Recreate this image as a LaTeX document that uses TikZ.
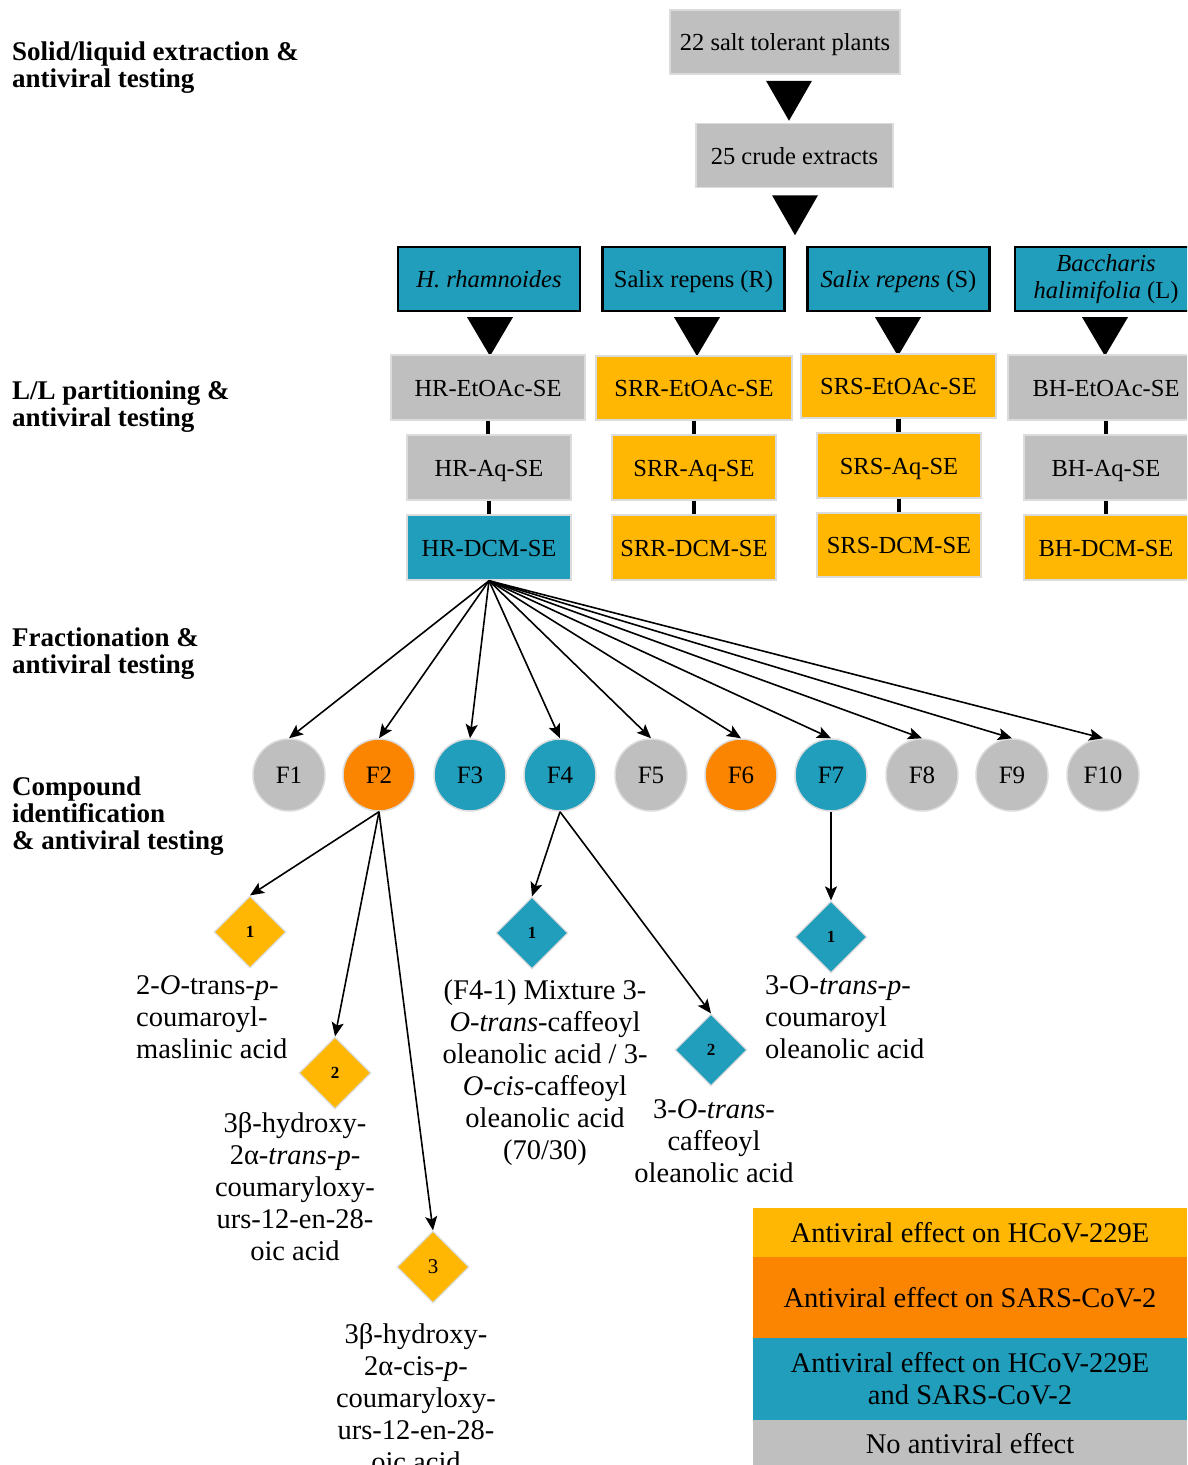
\documentclass[tikz,border=0pt]{standalone}
\usepackage{fontspec}
\setmainfont{Liberation Serif}
\usepackage{graphicx}
\usetikzlibrary{shapes.geometric,arrows.meta,calc}
\definecolor{cgray}{HTML}{BFBFBF}
\definecolor{cyel}{HTML}{FFB703}
\definecolor{corg}{HTML}{FB8500}
\definecolor{cblue}{HTML}{219EBC}
\definecolor{cedge}{HTML}{DCDCDC}
\tikzset{
  box/.style={rectangle, draw=cedge, line width=1.5pt, inner sep=0pt, minimum height=64pt,
    font=\fontsize{24.5}{28}\selectfont, text height=20pt, text depth=3pt},
  plantbox/.style={rectangle, draw=black, line width=2.2pt, fill=cblue, inner sep=0pt,
    minimum width=182pt, minimum height=64pt, font=\fontsize{24.5}{26.5}\selectfont, align=center},
  fcirc/.style={circle, draw=cedge, line width=1.5pt, inner sep=0pt, minimum size=72pt,
    font=\fontsize{25}{25}\selectfont},
  cmpd/.style={diamond, aspect=1, draw=cedge, line width=1.2pt, inner sep=0pt,
    minimum width=72pt, minimum height=72pt, font=\fontsize{17}{17}\selectfont\bfseries},
  ctext/.style={inner sep=0pt, font=\fontsize{28.5}{32}\selectfont},
  lbl/.style={inner sep=0pt, anchor=base west, align=left, font=\fontsize{27}{27}\selectfont\bfseries},
  legbox/.style={rectangle, inner sep=0pt, minimum width=434pt, align=center,
    font=\fontsize{28.5}{32}\selectfont},
  arr/.style={line width=1.6pt, -{Stealth[length=14pt,width=12pt,inset=3pt]}},
  link/.style={line width=4.5pt},
  tri/.style={fill=black}
}
\begin{document}
\begin{tikzpicture}[x=1pt,y=-1pt]
\useasboundingbox (0,0) rectangle (1187,1465);
\clip (0,0) rectangle (1187,1465);

% left step labels (base = baseline of the last line)
\node[lbl] (s1) at (12,87) {Solid/liquid extraction \&\\antiviral testing};
\node[lbl] (s2) at (12,426) {L/L partitioning \&\\antiviral testing};
\node[lbl] (s3) at (12,673) {Fractionation \&\\antiviral testing};
\node[lbl] (s4) at (12,849) {Compound\\identification\\\& antiviral testing};

% top boxes
\node[box, fill=cgray, minimum width=230pt] (plants) at (785,42) {22 salt tolerant plants};
\node[box, fill=cgray, minimum width=197pt] (crude) at (794.5,155.5) {25 crude extracts};

% plant boxes
\node[plantbox, text height=20pt, text depth=3pt] (hr) at (489,279) {\textit{H. rhamnoides}};
\node[plantbox, text height=20pt, text depth=3pt] (srr) at (693.5,279) {Salix repens (R)};
\node[plantbox, text height=20pt, text depth=3pt] (srs) at (898.5,279) {\textit{Salix repens} (S)};
\node[plantbox] (bh) at (1106,279) {\textit{Baccharis}\\\textit{halimifolia} (L)};

% triangles
\fill[tri] ($(plants.south)+(-19,6)$) -- ($(plants.south)+(27,6)$) -- ($(plants.south)+(4,46)$) -- cycle;
\fill[tri] ($(crude.south)+(-22.5,7)$) -- ($(crude.south)+(23.5,7)$) -- ($(crude.south)+(0.5,47)$) -- cycle;
\foreach \n/\dx in {hr/1, srr/3.5, srs/-0.5, bh/-1}{
  \fill[tri] ($(\n.south)+(\dx-23,5)$) -- ($(\n.south)+(\dx+23,5)$) -- ($(\n.south)+(\dx,44)$) -- cycle;
}

% partition boxes
\node[box, fill=cgray, minimum width=194pt, minimum height=65pt] (hre) at (488,387.5) {HR-EtOAc-SE};
\node[box, fill=cgray, minimum width=164pt, minimum height=65pt] (hra) at (489,467.5) {HR-Aq-SE};
\node[box, fill=cblue, minimum width=164pt, minimum height=65pt] (hrd) at (489,547.5) {HR-DCM-SE};

\node[box, fill=cyel, minimum width=196pt] (srre) at (694,388) {SRR-EtOAc-SE};
\node[box, fill=cyel, minimum width=164pt, minimum height=65pt] (srra) at (694,467.5) {SRR-Aq-SE};
\node[box, fill=cyel, minimum width=164pt, minimum height=65pt] (srrd) at (694,547.5) {SRR-DCM-SE};

\node[box, fill=cyel, minimum width=195pt] (srse) at (898.5,386) {SRS-EtOAc-SE};
\node[box, fill=cyel, minimum width=164pt, minimum height=65pt] (srsa) at (899,465.5) {SRS-Aq-SE};
\node[box, fill=cyel, minimum width=164pt] (srsd) at (899,545) {SRS-DCM-SE};

\node[box, fill=cgray, minimum width=196pt, minimum height=65pt] (bhe) at (1106,387.5) {BH-EtOAc-SE};
\node[box, fill=cgray, minimum width=164pt, minimum height=65pt] (bha) at (1106,467.5) {BH-Aq-SE};
\node[box, fill=cyel, minimum width=164pt, minimum height=65pt] (bhd) at (1106,547.5) {BH-DCM-SE};

\foreach \a/\b in {hre/hra, hra/hrd, srre/srra, srra/srrd, srse/srsa, srsa/srsd, bhe/bha, bha/bhd}{
  \draw[link] (\a.south) -- (\a.south |- \b.north);
}

% fractions
\foreach \i/\x/\c in {1/289/cgray, 2/379/corg, 3/470/cblue, 4/560/cblue, 5/651/cgray,
                      6/741/corg, 7/831/cblue, 8/922/cgray, 9/1012/cgray, 10/1103/cgray}{
  \node[fcirc, fill=\c] (f\i) at (\x,775) {F\i};
}
\foreach \i in {1,...,10}{
  \draw[arr] (hrd.south) -- (f\i.north);
}

% compounds
\node[cmpd, fill=cyel] (d21) at (250,932) {1};
\node[cmpd, fill=cyel] (d22) at (335,1073) {2};
\node[cmpd, fill=cyel, font=\fontsize{21}{21}\selectfont] (d23) at (433,1267) {3};
\node[cmpd, fill=cblue] (d41) at (532,933) {1};
\node[cmpd, fill=cblue] (d42) at (711,1050) {2};
\node[cmpd, fill=cblue] (d71) at (831,937) {1};

\draw[arr] (f2.south) -- (d21.north);
\draw[arr] (f2.south) -- (d22.north);
\draw[arr] (f2.south) -- (d23.north);
\draw[arr] (f4.south) -- (d41.north);
\draw[arr] (f4.south) -- (d42.north);
\draw[arr] (f7.south) -- (d71.north);

% compound names (base = baseline of the last line)
\node[ctext, anchor=base west, align=left] (t21) at (136,1058)
  {2-\textit{O}-trans-\textit{p}-\\coumaroyl-\\maslinic acid};
\node[ctext, anchor=base, align=center] (t22) at (295,1260)
  {3β-hydroxy-\\2α-\textit{trans}-\textit{p}-\\coumaryloxy-\\urs-12-en-28-\\oic acid};
\node[ctext, anchor=base, align=center] (t23) at (416,1471)
  {3β-hydroxy-\\2α-cis-\textit{p}-\\coumaryloxy-\\urs-12-en-28-\\oic acid};
\node[ctext, anchor=base, align=center] (t41) at (545,1159)
  {(F4-1) Mixture 3-\\\textit{O-trans}-caffeoyl\\oleanolic acid / 3-\\\textit{O-cis}-caffeoyl\\oleanolic acid\\(70/30)};
\node[ctext, anchor=base, align=center] (t42) at (714,1182)
  {3-\textit{O-trans}-\\caffeoyl\\oleanolic acid};
\node[ctext, anchor=base west, align=left] (t71) at (765,1058)
  {3-O-\textit{trans}-\textit{p}-\\coumaroyl\\oleanolic acid};

% legend
\node[legbox, fill=cyel, minimum height=49pt] (lg1) at (970,1232.5) {Antiviral effect on HCoV-229E};
\node[legbox, fill=corg, minimum height=81pt] (lg2) at (970,1297.5) {Antiviral effect on SARS-CoV-2};
\node[legbox, fill=cblue, minimum height=82pt] (lg3) at (970,1379) {Antiviral effect on HCoV-229E\\and SARS-CoV-2};
\node[legbox, fill=cgray, minimum height=48pt] (lg4) at (970,1444) {No antiviral effect};
\end{tikzpicture}
\end{document}
